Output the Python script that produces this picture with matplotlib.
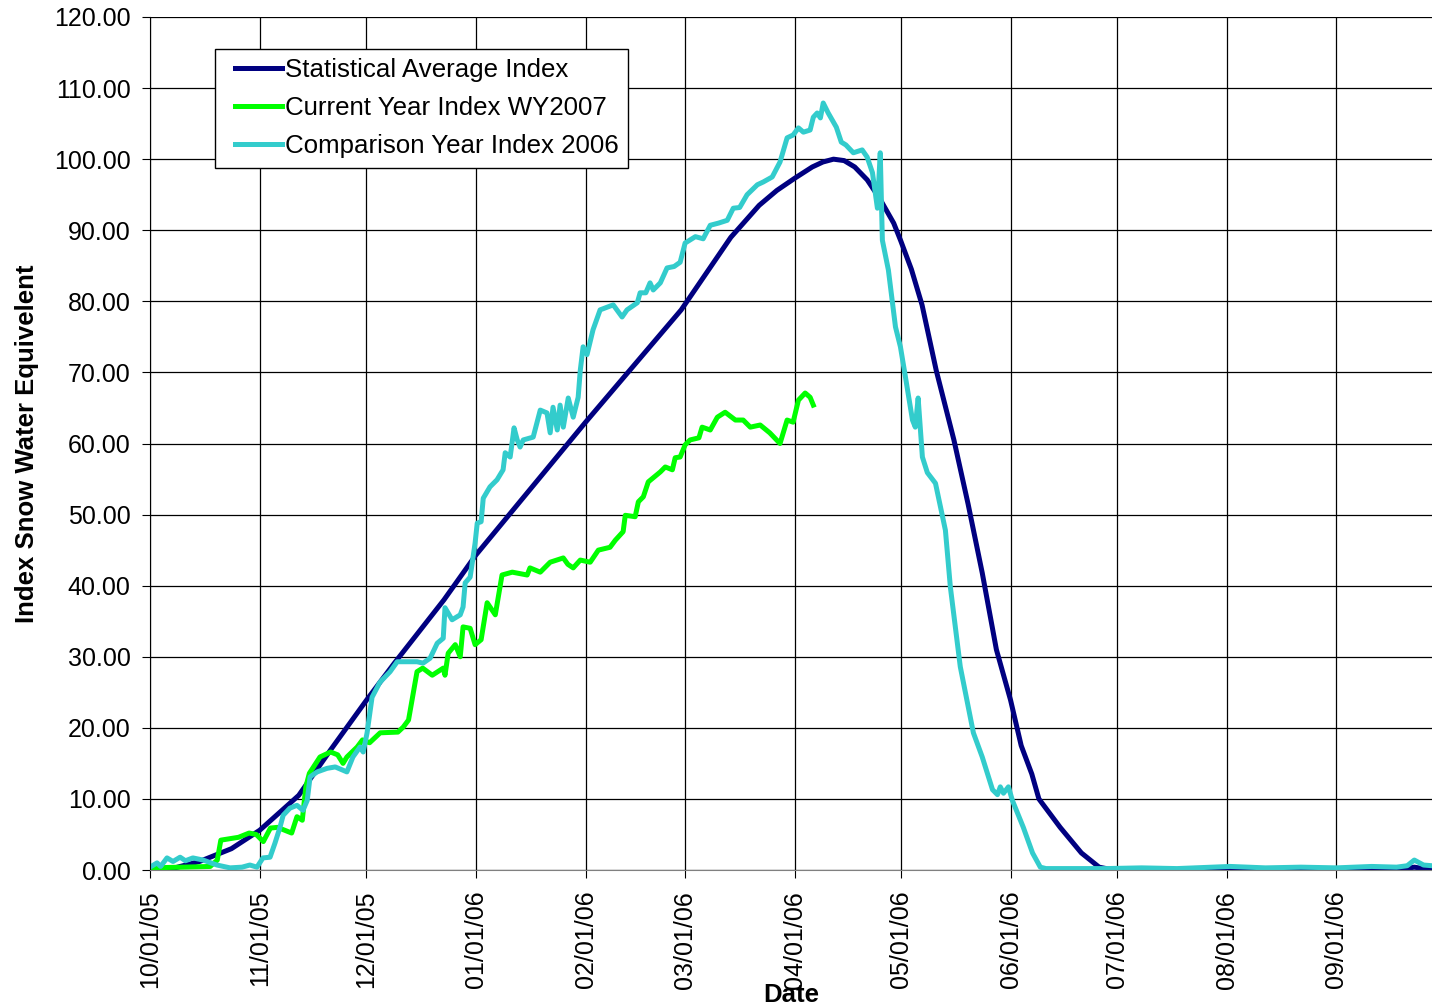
import numpy as np
import pandas as pd
import matplotlib
matplotlib.use('Agg')
import matplotlib.pyplot as plt
import matplotlib.dates as mdates
from matplotlib.lines import Line2D
from matplotlib.legend_handler import HandlerLine2D

plt.rcParams['font.family'] = ['Liberation Sans', 'DejaVu Sans']

start = pd.Timestamp('2005-10-01')

# statistical average index (day offset from 10/01/05, value)
avg_days = [0, 7, 14, 23, 31, 42, 51, 61, 69, 83, 92, 123, 150, 164, 172, 177,
            182, 187, 190, 193, 196, 199, 202.5, 206, 210, 212, 215, 218, 222,
            227, 231, 235, 239, 243, 246, 249, 251, 257, 263, 268, 272, 300,
            330, 352, 357, 362]
avg_vals = [0.0, 0.3, 1.2, 3.0, 5.6, 10.5, 16.9, 23.8, 29.1, 38.0, 44.3, 63.0,
            78.8, 89.0, 93.5, 95.6, 97.3, 98.9, 99.6, 100.0, 99.8, 98.9, 97.1,
            94.5, 91.0, 88.5, 84.5, 79.5, 70.3, 60.5, 51.5, 41.8, 31.0, 23.9,
            17.5, 13.5, 10.0, 6.0, 2.4, 0.4, 0.0, 0.0, 0.0, 0.0, 0.4, 0.0]

# current year WY2007
cur_days = [0, 9, 17, 19, 20, 25, 28, 30, 32, 34, 36, 40, 41.5, 43, 44, 45, 48,
            51, 53, 54.5, 55.6, 58.5, 60, 62, 65, 70, 71.5, 73, 75.4, 77, 79.7,
            82.8, 83.3, 84.2, 86.2, 87.6, 88.4, 90.4, 91.8, 93.5, 95.2, 97.5,
            99.4, 102.3, 106.5, 107.3, 110.2, 113, 116.7, 118, 119.5, 121.5,
            124.3, 126.6, 129.9, 131.4, 133.6, 134.2, 137, 137.9, 139.3, 140.7,
            144.1, 145.5, 147.5, 148.3, 149.7, 151.1, 152.5, 155, 155.9, 158.2,
            160.2, 162.4, 165.3, 167.5, 169.5, 172.3, 175, 177.9, 179.9, 181.6,
            183.1, 185, 186.4, 187.3]
cur_vals = [0.3, 0.4, 0.5, 1.4, 4.2, 4.6, 5.2, 5.0, 4.0, 5.9, 6.0, 5.2, 7.5,
            7.0, 11.7, 13.6, 15.9, 16.6, 16.2, 15.0, 15.9, 17.3, 18.3, 17.9,
            19.3, 19.4, 20.1, 21.1, 27.9, 28.4, 27.4, 28.4, 27.4, 30.5, 31.7,
            30.0, 34.2, 34.0, 31.7, 32.4, 37.6, 35.9, 41.5, 41.9, 41.5, 42.5,
            41.9, 43.3, 43.9, 43.0, 42.5, 43.6, 43.3, 45.0, 45.4, 46.4, 47.6,
            49.9, 49.7, 51.8, 52.5, 54.6, 56.0, 56.7, 56.3, 58.0, 58.1, 59.8,
            60.5, 60.8, 62.3, 61.9, 63.7, 64.4, 63.3, 63.3, 62.3, 62.6, 61.5,
            60.0, 63.3, 63.0, 66.1, 67.1, 66.5, 65.4]

# comparison year 2006
cmp_days = [0, 2, 3, 4.8, 6.5, 8.5, 10, 12.1, 15, 18.9, 22.6, 26, 28.2, 30.2,
            31.9, 33.9, 35.3, 36.7, 37.6, 39.5, 41.5, 43.2, 44.4, 45.2, 47.2,
            50, 52.3, 55.6, 57.3, 59.3, 60.2, 61.3, 62.7, 64.9, 67.8, 69.8,
            75.4, 77.1, 79.1, 81.1, 82.8, 83.3, 85.3, 87.6, 88.4, 89, 90.4,
            91.2, 91.8, 92.4, 93.5, 94.1, 96, 98, 99.7, 100.3, 101.7, 102.8,
            103.7, 104.5, 105.4, 108.2, 110.2, 112.1, 113, 113.8, 115, 115.8,
            116.7, 118.1, 119.5, 120.9, 121.5, 122.3, 123.4, 125.1, 127.1,
            130.8, 133.3, 134.7, 137.6, 138.4, 140, 141.2, 142.1, 144.1, 146,
            148, 149.7, 151.1, 154, 156.2, 158.2, 160.5, 163, 164.7, 166.5,
            168.6, 171.5, 173.2, 175.7, 177.9, 179.9, 181.6, 183.1, 184.5,
            186.4, 187.3, 188.4, 189.3, 190.1, 191.5, 193.8, 195.2, 196.5,
            198.6, 201.1, 202.5, 204, 205.4, 206.2, 206.8, 208.5, 210.5, 211.9,
            213.3, 215.3, 216.1, 216.9, 218.1, 219.5, 221.8, 223.2, 224.6, 226,
            228.8, 232.5, 235, 237.9, 239.3, 240.1, 241, 242.4, 243.5, 246.6,
            249.2, 251.4, 253, 260, 270, 280, 290, 300, 305, 315, 325, 335, 345,
            352, 355, 357, 359.6, 362]
cmp_vals = [0.4, 1.0, 0.5, 1.7, 1.2, 1.8, 1.3, 1.7, 1.4, 0.7, 0.3, 0.4, 0.7,
            0.4, 1.7, 1.8, 3.8, 6.0, 7.7, 8.7, 9.1, 8.4, 9.8, 13.1, 13.8, 14.3,
            14.5, 13.8, 15.9, 17.3, 16.6, 19.3, 24.3, 26.4, 27.9, 29.3, 29.3,
            29.1, 29.8, 31.9, 32.6, 36.9, 35.2, 35.9, 37.0, 40.4, 41.2, 44.0,
            46.0, 48.8, 49.0, 52.3, 53.9, 54.9, 56.3, 58.7, 58.1, 62.2, 60.5,
            59.5, 60.5, 60.9, 64.7, 64.3, 61.5, 65.1, 61.9, 65.4, 62.3, 66.4,
            63.7, 66.5, 70.3, 73.6, 72.5, 76.0, 78.8, 79.5, 77.8, 78.8, 79.8,
            81.2, 81.2, 82.6, 81.6, 82.6, 84.7, 84.9, 85.5, 88.2, 89.1, 88.8,
            90.7, 91.0, 91.4, 93.1, 93.2, 95.0, 96.4, 96.8, 97.5, 99.6, 103.0,
            103.4, 104.4, 103.8, 104.1, 105.9, 106.5, 105.8, 107.9, 106.5,
            104.5, 102.4, 102.0, 100.9, 101.3, 100.3, 98.1, 93.1, 100.9, 88.6,
            84.4, 76.4, 73.6, 69.4, 63.3, 62.3, 66.4, 58.1, 55.9, 54.4, 51.1,
            47.8, 39.8, 28.6, 19.3, 15.9, 11.3, 10.6, 11.7, 10.8, 11.7, 9.8,
            6.0, 2.4, 0.4, 0.2, 0.2, 0.2, 0.3, 0.2, 0.4, 0.5, 0.3, 0.4, 0.3,
            0.5, 0.4, 0.6, 1.4, 0.7, 0.6]


def to_dates(days):
    return start + pd.to_timedelta(np.asarray(days, dtype=float), unit='D')


fig = plt.figure(figsize=(14.32, 10.08), dpi=100)
ax = fig.add_axes([150 / 1432, 1 - 870 / 1008, 1 - 150 / 1432, (870 - 17) / 1008])

ax.plot(to_dates(avg_days), avg_vals, color='#000080', lw=3.6,
        label='Statistical Average Index')
ax.plot(to_dates(cur_days), cur_vals, color='#00FF00', lw=3.6,
        label='Current Year Index WY2007')
ax.plot(to_dates(cmp_days), cmp_vals, color='#33CCCC', lw=3.6,
        label='Comparison Year Index 2006')

ax.set_xlim(start, start + pd.Timedelta(days=362))
ax.set_ylim(0, 120)
ax.set_yticks(np.arange(0, 121, 10))
ax.yaxis.set_major_formatter(matplotlib.ticker.FormatStrFormatter('%.2f'))
ax.xaxis.set_major_locator(mdates.MonthLocator(bymonthday=1))
ax.xaxis.set_major_formatter(mdates.DateFormatter('%m/%d/%y'))
plt.setp(ax.get_xticklabels(), rotation=90)

ax.tick_params(axis='y', labelsize=18, length=6, pad=8, direction='out')
ax.tick_params(axis='x', labelsize=18, length=6, pad=9, direction='out')
ax.grid(True, color='black', lw=0.9)
ax.set_axisbelow(True)
for s in ['top', 'right']:
    ax.spines[s].set_visible(False)
ax.spines['left'].set_color('black')
ax.spines['bottom'].set_color('#808080')

ax.set_ylabel('Index Snow Water Equivelent', fontsize=18.5, fontweight='bold')
ax.yaxis.set_label_coords(-0.0867, 0.5)
ax.set_xlabel('Date', fontsize=18.5, fontweight='bold')
ax.xaxis.set_label_coords(0.5, -0.133)

leg = ax.legend(loc='upper left', bbox_to_anchor=(65 / 1282, (870 - 49) / 853),
                borderaxespad=0, fontsize=18.6, fancybox=False, framealpha=1,
                edgecolor='black', handlelength=2.25, handletextpad=0.12,
                labelspacing=0.55, borderpad=0.35,
                handler_map={Line2D: HandlerLine2D(xpad=0.43)})
leg.get_frame().set_linewidth(1.0)

fig.savefig('out.png', dpi=100)
